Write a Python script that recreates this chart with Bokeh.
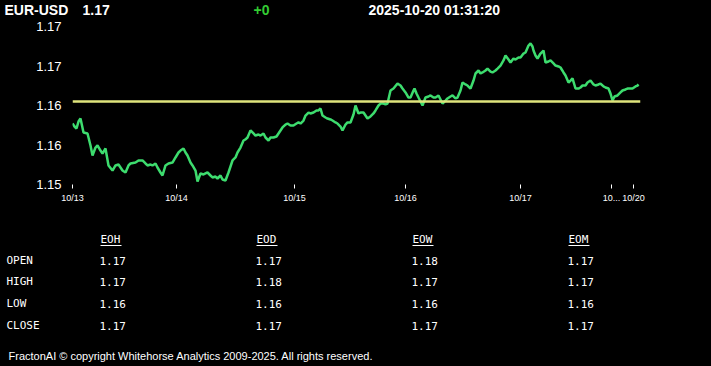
from bokeh.plotting import figure
from bokeh.layouts import column
from bokeh.models import Range1d, FixedTicker, Span
from bokeh.core.properties import value
from bokeh.embed import file_html
from bokeh.resources import INLINE

# ---------------- data ----------------
symbol = "EUR-USD"
last_price = "1.17"
change = "+0"
stamp = "2025-10-20 01:31:20"

seq = [0, 2, 4, 6, 8, 11, 15, 18, 20, 23, 25, 28, 30, 33, 36, 40, 43, 46, 48, 50,
       53, 56, 58, 63, 66, 70, 73, 75, 78, 80, 83, 85, 88, 90, 93, 96, 100, 103, 106, 108,
       111, 113, 115, 118, 120, 123, 125, 128, 131, 135, 138, 140, 143, 145, 148, 150, 153, 156, 160, 163,
       165, 168, 171, 173, 175, 178, 181, 183, 186, 188, 191, 193, 196, 198, 201, 204, 206, 210, 213, 215,
       218, 221, 224, 226, 228, 231, 233, 236, 238, 241, 244, 246, 248, 250, 253, 255, 258, 260, 263, 265,
       268, 270, 273, 275, 278, 281, 283, 286, 288, 291, 293, 295, 298, 301, 303, 306, 308, 311, 313, 315,
       318, 321, 325, 328, 330, 333, 336, 338, 341, 342, 344, 346, 348, 350, 353, 356, 358, 361, 363, 366,
       368, 370, 373, 375, 378, 380, 383, 385, 388, 390, 393, 395, 398, 401, 403, 406, 408, 410, 413, 415,
       418, 420, 423, 425, 428, 431, 433, 436, 438, 441, 443, 446, 448, 451, 453, 456, 458, 460, 461, 463,
       465, 468, 471, 473, 476, 478, 481, 483, 486, 488, 491, 493, 496, 498, 500, 503, 506, 508, 510, 513,
       515, 518, 521, 523, 526, 528, 531, 533, 536, 538, 540, 542, 545, 548, 550, 553, 555, 558, 560, 563,
       565, 566]

price = [1.15772, 1.15734, 1.15709, 1.15797, 1.15835, 1.15658, 1.15646, 1.15494, 1.15367, 1.15468,
         1.15494, 1.15430, 1.15392, 1.15456, 1.15241, 1.15177, 1.15241, 1.15253, 1.15215, 1.15177,
         1.15152, 1.15241, 1.15266, 1.15278, 1.15304, 1.15304, 1.15266, 1.15241, 1.15253, 1.15241,
         1.15266, 1.15215, 1.15152, 1.15114, 1.15241, 1.15266, 1.15278, 1.15342, 1.15405, 1.15430,
         1.15456, 1.15405, 1.15367, 1.15278, 1.15241, 1.15177, 1.15038, 1.15139, 1.15127, 1.15152,
         1.15114, 1.15089, 1.15101, 1.15076, 1.15114, 1.15063, 1.15051, 1.15152, 1.15304, 1.15342,
         1.15405, 1.15468, 1.15557, 1.15570, 1.15595, 1.15684, 1.15646, 1.15620, 1.15633, 1.15620,
         1.15646, 1.15595, 1.15557, 1.15595, 1.15595, 1.15608, 1.15646, 1.15722, 1.15759, 1.15772,
         1.15747, 1.15747, 1.15772, 1.15785, 1.15772, 1.15810, 1.15873, 1.15911, 1.15899, 1.15911,
         1.15937, 1.15937, 1.15962, 1.15873, 1.15848, 1.15835, 1.15823, 1.15810, 1.15785, 1.15772,
         1.15734, 1.15684, 1.15759, 1.15785, 1.15785, 1.15886, 1.16000, 1.15899, 1.15911, 1.15911,
         1.15873, 1.15835, 1.15861, 1.15899, 1.15937, 1.16000, 1.16025, 1.16025, 1.16013, 1.16025,
         1.16190, 1.16215, 1.16278, 1.16253, 1.16215, 1.16165, 1.16101, 1.16101, 1.16190, 1.16215,
         1.16152, 1.16101, 1.16051, 1.16000, 1.16101, 1.16114, 1.16127, 1.16101, 1.16101, 1.16127,
         1.16076, 1.16025, 1.16063, 1.16089, 1.16114, 1.16127, 1.16089, 1.16101, 1.16190, 1.16291,
         1.16266, 1.16253, 1.16215, 1.16316, 1.16405, 1.16443, 1.16405, 1.16418, 1.16443, 1.16468,
         1.16430, 1.16418, 1.16443, 1.16468, 1.16506, 1.16570, 1.16633, 1.16582, 1.16544, 1.16595,
         1.16582, 1.16608, 1.16608, 1.16658, 1.16671, 1.16759, 1.16785, 1.16747, 1.16696, 1.16633,
         1.16595, 1.16658, 1.16696, 1.16544, 1.16557, 1.16570, 1.16532, 1.16506, 1.16494, 1.16481,
         1.16418, 1.16380, 1.16291, 1.16316, 1.16342, 1.16215, 1.16215, 1.16228, 1.16253, 1.16253,
         1.16291, 1.16316, 1.16266, 1.16253, 1.16266, 1.16278, 1.16241, 1.16228, 1.16215, 1.16152,
         1.16063, 1.16114, 1.16127, 1.16165, 1.16190, 1.16203, 1.16215, 1.16215, 1.16215, 1.16241,
         1.16253, 1.16266]

ref_level = 1.1605

x_tick_pos = [0, 104, 222, 333, 448, 539, 561]
x_tick_labels = ["10/13", "10/14", "10/15", "10/16", "10/17", "10...", "10/20"]
y_tick_pos = [1.15, 1.155, 1.16, 1.165, 1.17]
y_tick_labels = ["1.15", "1.16", "1.16", "1.17", "1.17"]

periods = ["EOH", "EOD", "EOW", "EOM"]
fields = ["OPEN", "HIGH", "LOW", "CLOSE"]
eoh = ["1.17", "1.17", "1.16", "1.17"]
eod = ["1.17", "1.18", "1.16", "1.17"]
eow = ["1.18", "1.17", "1.16", "1.17"]
eom = ["1.17", "1.17", "1.16", "1.17"]

footer = "FractonAI \u00a9 copyright Whitehorse Analytics 2009-2025. All rights reserved."

# ---------------- styling ----------------
BG = "black"
WHITE = "#ffffff"
GREEN_LINE = "#3ddc6e"
YELLOW = "#dfe47c"
SANS = value("Liberation Sans")
MONO = value("DejaVu Sans Mono")
W = 711
BLACK_CSS = {"background-color": "#000000"}


def blank(height, y0, y1):
    f = figure(width=W, height=height, x_range=Range1d(0, W), y_range=Range1d(y1, y0),
               output_backend="svg", toolbar_location=None, x_axis_type=None, y_axis_type=None,
               min_border=0, background_fill_color=BG, border_fill_color=BG, frame_align=False,
               styles=BLACK_CSS)
    f.outline_line_color = None
    f.grid.visible = False
    return f


# ---------------- header ----------------
head = blank(16, 0, 16)
head.text(x=[4, 82], y=[9, 9], text=[symbol, last_price], text_font=SANS, text_font_size="14px",
          text_font_style="bold", text_color=WHITE, text_baseline="middle")
head.text(x=[253], y=[9], text=[change], text_font=SANS, text_font_size="14px",
          text_font_style="bold", text_color="#33cc33", text_baseline="middle")
head.text(x=[368], y=[9], text=[stamp], text_font=SANS, text_font_size="14px",
          text_font_style="bold", text_color=WHITE, text_baseline="middle")

# ---------------- chart ----------------
p = figure(width=W, height=199, x_range=Range1d(0, 568), y_range=Range1d(1.15, 1.17),
           output_backend="svg", toolbar_location=None,
           min_border_left=72, min_border_right=71, min_border_top=10, min_border_bottom=31,
           background_fill_color=BG, border_fill_color=BG, frame_align=False,
           styles=BLACK_CSS)
p.outline_line_color = None
p.grid.visible = False

p.add_layout(Span(location=ref_level, dimension="width", line_color=YELLOW, line_width=2.5))
p.line(seq, price, line_color=GREEN_LINE, line_width=2.5)

xa = p.xaxis[0]
xa.ticker = FixedTicker(ticks=x_tick_pos)
xa.major_label_overrides = {t: l for t, l in zip(x_tick_pos, x_tick_labels)}
xa.axis_line_color = None
xa.major_tick_in = 0
xa.major_tick_out = 4
xa.major_tick_line_color = WHITE
xa.minor_tick_line_color = None
xa.major_label_text_color = WHITE
xa.major_label_text_font = "Liberation Sans"
xa.major_label_text_font_size = "9px"
xa.major_label_standoff = 4

ya = p.yaxis[0]
ya.ticker = FixedTicker(ticks=y_tick_pos)
ya.major_label_overrides = {t: l for t, l in zip(y_tick_pos, y_tick_labels)}
ya.axis_line_color = None
ya.major_tick_line_color = None
ya.major_tick_in = 0
ya.major_tick_out = 0
ya.minor_tick_line_color = None
ya.major_label_text_color = WHITE
ya.major_label_text_font = "Liberation Sans"
ya.major_label_text_font_size = "13px"
ya.major_label_standoff = 11

# ---------------- table + footer ----------------
tab = blank(151, 215, 366)
col_x = [100, 256, 412, 568]
row_y = [260, 281, 303, 325]
tab.text(x=col_x, y=[239] * 4, text=periods, text_font=MONO, text_font_size="11px",
         text_color=WHITE, text_baseline="middle")
tab.segment(x0=col_x, y0=[245] * 4, x1=[c + 21 for c in col_x], y1=[245] * 4,
            line_color=WHITE, line_width=1)
tab.text(x=[6] * 4, y=row_y, text=fields, text_font=MONO, text_font_size="11px",
         text_color=WHITE, text_baseline="middle")
for cx, vals in zip(col_x, [eoh, eod, eow, eom]):
    tab.text(x=[cx - 1] * 4, y=row_y, text=vals, text_font=MONO, text_font_size="11px",
             text_color=WHITE, text_baseline="middle")
tab.text(x=[8], y=[355], text=[footer], text_font=SANS, text_font_size="11px",
         text_color=WHITE, text_baseline="middle")

layout = column(head, p, tab, spacing=0, styles=BLACK_CSS)
html = file_html(layout, INLINE)
html = html.replace("<body>", '<body style="margin:0;background:#000000">', 1)
open("out.html", "w").write(html)
